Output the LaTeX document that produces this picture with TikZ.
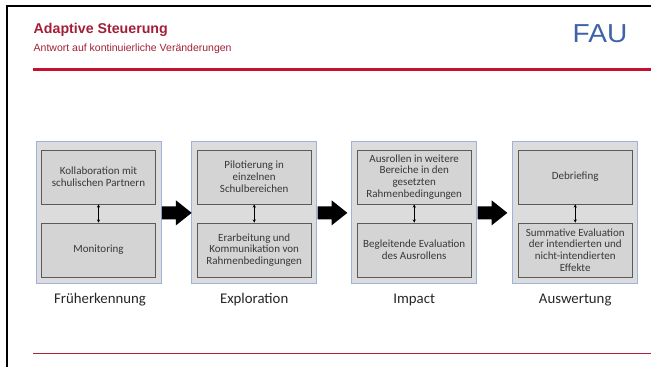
\documentclass[tikz,border=0pt]{standalone}
\usepackage{fontspec}
\setmainfont{Carlito}
\newfontfamily\arialfont{Liberation Sans}
\usetikzlibrary{arrows.meta,calc}
\definecolor{faured}{HTML}{A31F37}
\definecolor{linered}{HTML}{C8102E}
\definecolor{bottomred}{HTML}{B0203F}
\definecolor{outerfill}{HTML}{DCDCDC}
\definecolor{outerdraw}{HTML}{9DB3DD}
\definecolor{innerfill}{HTML}{D4D4D4}
\definecolor{innerdraw}{HTML}{5A5A5A}
\definecolor{faublue}{HTML}{3E63A8}
\tikzset{
  outerbox/.style={draw=outerdraw, fill=outerfill, line width=0.9pt, minimum width=125pt, minimum height=142pt, inner sep=0pt},
  innerbox/.style={draw=innerdraw, fill=innerfill, line width=0.8pt, minimum width=114pt, minimum height=54pt, inner sep=1pt, align=center, font=\fontsize{11}{11.8}\selectfont, text=black!78},
  phase/.style={font=\fontsize{14.8}{17}\selectfont, text=black!85, anchor=base, inner sep=0pt},
  link/.style={{Stealth[length=3.2pt,width=3.2pt]}-{Stealth[length=3.2pt,width=3.2pt]}, line width=0.8pt, black},
  blockarrow/.style={fill=black},
}
\begin{document}
\begin{tikzpicture}[x=1pt,y=-1pt]
\useasboundingbox (0,0) rectangle (651,367);
% frame
\draw[line width=2.2pt] (7,367) -- (7,6) -- (651,6);
% header
\node[anchor=base west, text=faured, font=\arialfont\bfseries\fontsize{14.2}{16}\selectfont, inner sep=0pt] (title) at (33.5,33.3) {Adaptive Steuerung};
\node[anchor=base west, text=faured, font=\arialfont\fontsize{10.5}{12}\selectfont, inner sep=0pt] (subtitle) at (33.5,51.5) {Antwort auf kontinuierliche Veränderungen};
\node[anchor=base west, text=faublue, font=\arialfont\fontsize{26}{28}\selectfont, inner sep=0pt, xscale=1.08] (logo) at (572.5,42) {FAU};
\fill[linered] (33,68) rectangle (651,71.3);
\draw[bottomred, line width=1pt] (33,353.3) -- (651,353.3);
% outer boxes
\node[outerbox] (o1) at (98.5,212.85) {};
\node[outerbox] (o2) at (254.2,212.85) {};
\node[outerbox] (o3) at (414.2,212.85) {};
\node[outerbox] (o4) at (575.2,212.85) {};
% inner boxes
\node[innerbox] (a1) at (98.5,177) {Kollaboration mit\\schulischen Partnern};
\node[innerbox] (b1) at (98.5,250) {Monitoring};
\node[innerbox] (a2) at (254.2,177) {Pilotierung in\\einzelnen\\Schulbereichen};
\node[innerbox] (b2) at (254.2,250) {Erarbeitung und\\Kommunikation von\\Rahmenbedingungen};
\node[innerbox] (a3) at (414.2,177) {Ausrollen in weitere\\Bereiche in den\\gesetzten\\Rahmenbedingungen};
\node[innerbox] (b3) at (414.2,250) {Begleitende Evaluation\\des Ausrollens};
\node[innerbox] (a4) at (575.2,177) {Debriefing};
\node[innerbox] (b4) at (575.2,250) {Summative Evaluation\\der intendierten und\\nicht-intendierten\\Effekte};
% links
\foreach \i in {1,2,3,4} {
  \draw[link] (a\i.south) -- (b\i.north);
}
% block arrows
\foreach \i/\j in {1/2,2/3,3/4} {
  \coordinate (s\i) at ($(o\i.east)+(0.5,0)$);
  \fill[blockarrow] (s\i) ++(0,-6.5) -- ++(14,0) -- ++(0,-6) -- ++(15.7,12.5) -- ++(-15.7,12.5) -- ++(0,-6) -- ++(-14,0) -- cycle;
}
% phase labels
\node[phase] (l1) at (100,303.3) {Früherkennung};
\node[phase] (l2) at (254.2,303.3) {Exploration};
\node[phase] (l3) at (414.2,303.3) {Impact};
\node[phase] (l4) at (575.2,303.3) {Auswertung};
\end{tikzpicture}
\end{document}
